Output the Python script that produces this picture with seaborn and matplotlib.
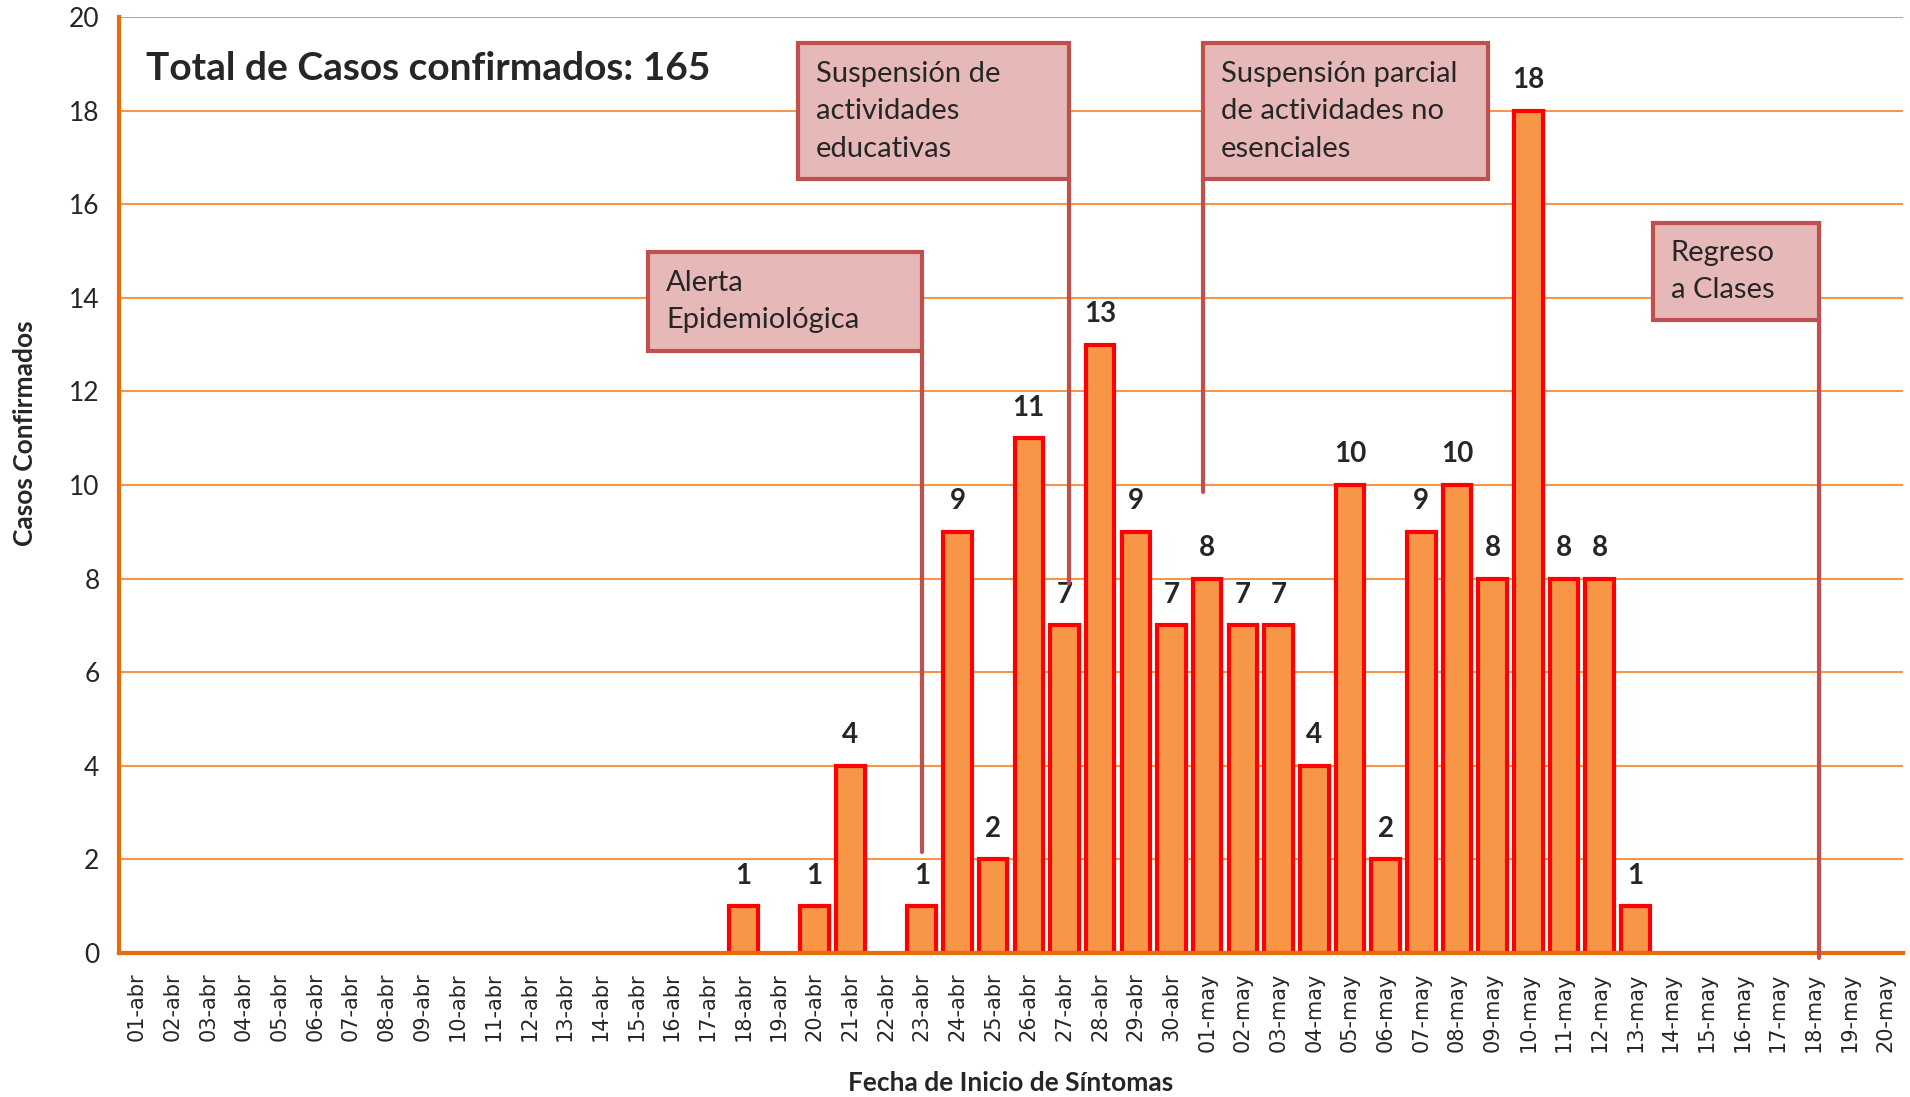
import numpy as np
import pandas as pd
import matplotlib
matplotlib.use("Agg")
import matplotlib.pyplot as plt
from matplotlib.patches import Rectangle
from matplotlib.ticker import MultipleLocator
import seaborn as sns

# data
fechas = [f"{d:02d}-abr" for d in range(1, 31)] + [f"{d:02d}-may" for d in range(1, 21)]
casos = [0] * 17 + [1, 0, 1, 4, 0, 1, 9, 2, 11, 7, 13, 9, 7] + \
        [8, 7, 7, 4, 10, 2, 9, 10, 8, 18, 8, 8, 1, 0, 0, 0, 0, 0, 0, 0]
titulo = "Total de Casos confirmados: " + str(sum(casos))
eventos = ["Alerta\nEpidemiológica",
           "Suspensión de\nactividades\neducativas",
           "Suspensión parcial\nde actividades no\nesenciales",
           "Regreso\na Clases"]

df = pd.DataFrame({"fecha": fechas, "casos": casos})

sns.set_style("white")
plt.rcParams['font.family'] = ['Lato', 'DejaVu Sans']

naranja = "#F79646"
eje = "#E46C0A"
caja = "#E6B9B8"
borde = "#C0504D"

fig = plt.figure(figsize=(19.10, 10.97), dpi=100)
ax = fig.add_axes([0.0623, 0.1313, 0.934, 0.8532])

sns.barplot(data=df, x="fecha", y="casos", color=naranja, width=0.8,
            edgecolor="#FF0000", linewidth=3, saturation=1, ax=ax, zorder=3)
# zero bars are not drawn in the original
for p in ax.patches:
    if p.get_height() == 0:
        p.set_visible(False)

ax.set_ylim(0, 20)
ax.set_xlim(-0.5, len(fechas) - 0.5)
ax.yaxis.set_major_locator(MultipleLocator(2))
ax.grid(axis="y", color=naranja, lw=1.5, zorder=0)
ax.set_axisbelow(True)

for s in ["top", "right"]:
    ax.spines[s].set_visible(False)
for s in ["left", "bottom"]:
    ax.spines[s].set_color(eje)
    ax.spines[s].set_linewidth(3)
    ax.spines[s].set_zorder(4)

# ticks between categories
ax.set_xticks(np.arange(len(fechas)))
ax.set_xticklabels(fechas, rotation=90, fontsize=15, family="DejaVu Sans")
ax.set_xticks(np.arange(len(fechas) + 1) - 0.5, minor=True)
ax.tick_params(axis="x", which="major", length=0, pad=14)
ax.tick_params(axis="x", which="minor", length=8, width=3, color=eje)
ax.tick_params(axis="y", length=6, width=3, color=eje, labelsize=19, pad=8)

ax.set_xlabel("Fecha de Inicio de Síntomas", fontsize=19, fontweight="bold", labelpad=14)
ax.set_ylabel("Casos Confirmados", fontsize=19, fontweight="bold")
ax.yaxis.set_label_coords(-0.046, 0.555)

for i, v in enumerate(casos):
    if v > 0:
        ax.annotate(str(v), (i, v), xytext=(0, 22), textcoords="offset points",
                    ha="center", va="center", fontsize=20, fontweight="bold", zorder=5)

ax.text(0.25, 18.9, titulo, fontsize=28, fontweight="bold", va="center", ha="left")

# event boxes: (left, bottom, right, top), line x, line end y
cajas = [
    ((14.33, 12.86, 22.0, 14.98), 22.0, 2.15),
    ((18.53, 16.54, 26.13, 19.44), 26.13, 7.9),
    ((29.88, 16.54, 37.87, 19.44), 29.88, 9.85),
    ((42.49, 13.53, 47.15, 15.6), 47.15, -0.1),
]
for texto, ((x0, y0, x1, y1), lx, ly) in zip(eventos, cajas):
    ax.add_patch(Rectangle((x0, y0), x1 - x0, y1 - y0, facecolor=caja,
                           edgecolor=borde, lw=3, zorder=6))
    ax.plot([lx, lx], [y0, ly], color=borde, lw=3, zorder=6, clip_on=False)
    ax.text(x0 + 0.5, (y0 + y1) / 2, texto, fontsize=21, va="center", ha="left",
            linespacing=1.55, zorder=7)

fig.savefig("out.png", dpi=100)
